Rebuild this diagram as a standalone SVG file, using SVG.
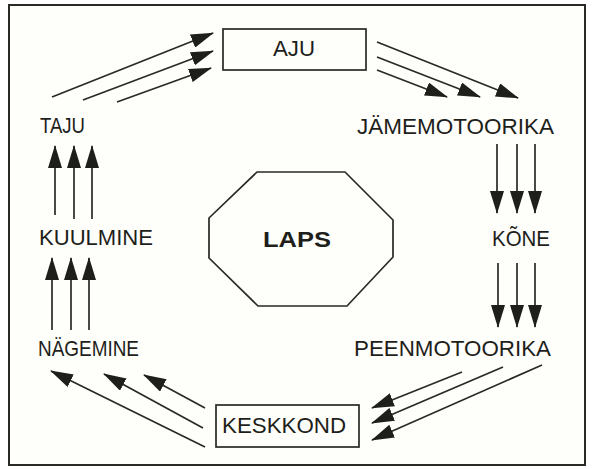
<svg xmlns="http://www.w3.org/2000/svg" width="592" height="469" viewBox="0 0 592 469">
<style>
.lbl{font-family:"Liberation Sans",Arial,sans-serif;font-size:21.5px;fill:#1e1e1a}
.box{fill:none;stroke:#2a2a24;stroke-width:1.7}
.arr{stroke:#2a2a24;stroke-width:1.7;fill:none;marker-end:url(#ah)}
</style>
<defs>
<marker id="ah" markerUnits="userSpaceOnUse" markerWidth="23" markerHeight="14" refX="22" refY="7" orient="auto">
<path d="M0,0 L23,7 L0,14 Z" fill="#1e1e1a"/>
</marker>
</defs>
<rect x="0" y="0" width="592" height="469" fill="#ffffff"/>
<rect x="9" y="5" width="576" height="460" fill="#fefefb" stroke="#2a2a24" stroke-width="2"/>
<g id="aju"><rect class="box" x="223" y="29" width="143" height="41"/><text class="lbl" x="273" y="56" textLength="42" lengthAdjust="spacingAndGlyphs">AJU</text></g>
<g id="taju"><text class="lbl" x="40" y="133" textLength="45" lengthAdjust="spacingAndGlyphs">TAJU</text></g>
<g id="jamemotoorika"><text class="lbl" x="357" y="134" textLength="197" lengthAdjust="spacingAndGlyphs">JÄMEMOTOORIKA</text></g>
<g id="kuulmine"><text class="lbl" x="39" y="245" textLength="114" lengthAdjust="spacingAndGlyphs">KUULMINE</text></g>
<g id="kone"><text class="lbl" x="492" y="246" textLength="58" lengthAdjust="spacingAndGlyphs">KÕNE</text></g>
<g id="nagemine"><text class="lbl" x="38" y="356" textLength="101" lengthAdjust="spacingAndGlyphs">NÄGEMINE</text></g>
<g id="peenmotoorika"><text class="lbl" x="354" y="356" textLength="197" lengthAdjust="spacingAndGlyphs">PEENMOTOORIKA</text></g>
<g id="keskkond"><rect class="box" x="216" y="405" width="143" height="42"/><text class="lbl" x="222" y="433" textLength="124" lengthAdjust="spacingAndGlyphs">KESKKOND</text></g>
<g id="laps"><polygon class="box" points="257,172 345,172 393,220 393,257 347,306 258,306 209,258 209,218"/><text class="lbl" x="263" y="247" textLength="68" lengthAdjust="spacingAndGlyphs" font-weight="bold" font-size="24">LAPS</text></g>
<g id="connectors">
<line class="arr" x1="52" y1="97" x2="213" y2="33"/>
<line class="arr" x1="83" y1="100" x2="213" y2="51"/>
<line class="arr" x1="117" y1="102" x2="211" y2="68"/>
<line class="arr" x1="377" y1="42" x2="518" y2="98"/>
<line class="arr" x1="377" y1="57" x2="480" y2="97"/>
<line class="arr" x1="377" y1="70" x2="447" y2="97"/>
<line class="arr" x1="497" y1="144" x2="497" y2="213"/>
<line class="arr" x1="517" y1="144" x2="517" y2="213"/>
<line class="arr" x1="535" y1="144" x2="535" y2="213"/>
<line class="arr" x1="498" y1="263" x2="498" y2="327"/>
<line class="arr" x1="517" y1="263" x2="517" y2="327"/>
<line class="arr" x1="535" y1="263" x2="535" y2="327"/>
<line class="arr" x1="462" y1="372" x2="372" y2="408"/>
<line class="arr" x1="503" y1="367" x2="372" y2="423"/>
<line class="arr" x1="542" y1="365" x2="372" y2="440"/>
<line class="arr" x1="205" y1="408" x2="144" y2="375"/>
<line class="arr" x1="203" y1="428" x2="104" y2="374"/>
<line class="arr" x1="205" y1="447" x2="51" y2="371"/>
<line class="arr" x1="52" y1="330" x2="52" y2="258"/>
<line class="arr" x1="71" y1="330" x2="71" y2="258"/>
<line class="arr" x1="89" y1="330" x2="89" y2="258"/>
<line class="arr" x1="55" y1="215" x2="55" y2="146"/>
<line class="arr" x1="74" y1="219" x2="74" y2="146"/>
<line class="arr" x1="92" y1="219" x2="92" y2="146"/>
</g>
</svg>
